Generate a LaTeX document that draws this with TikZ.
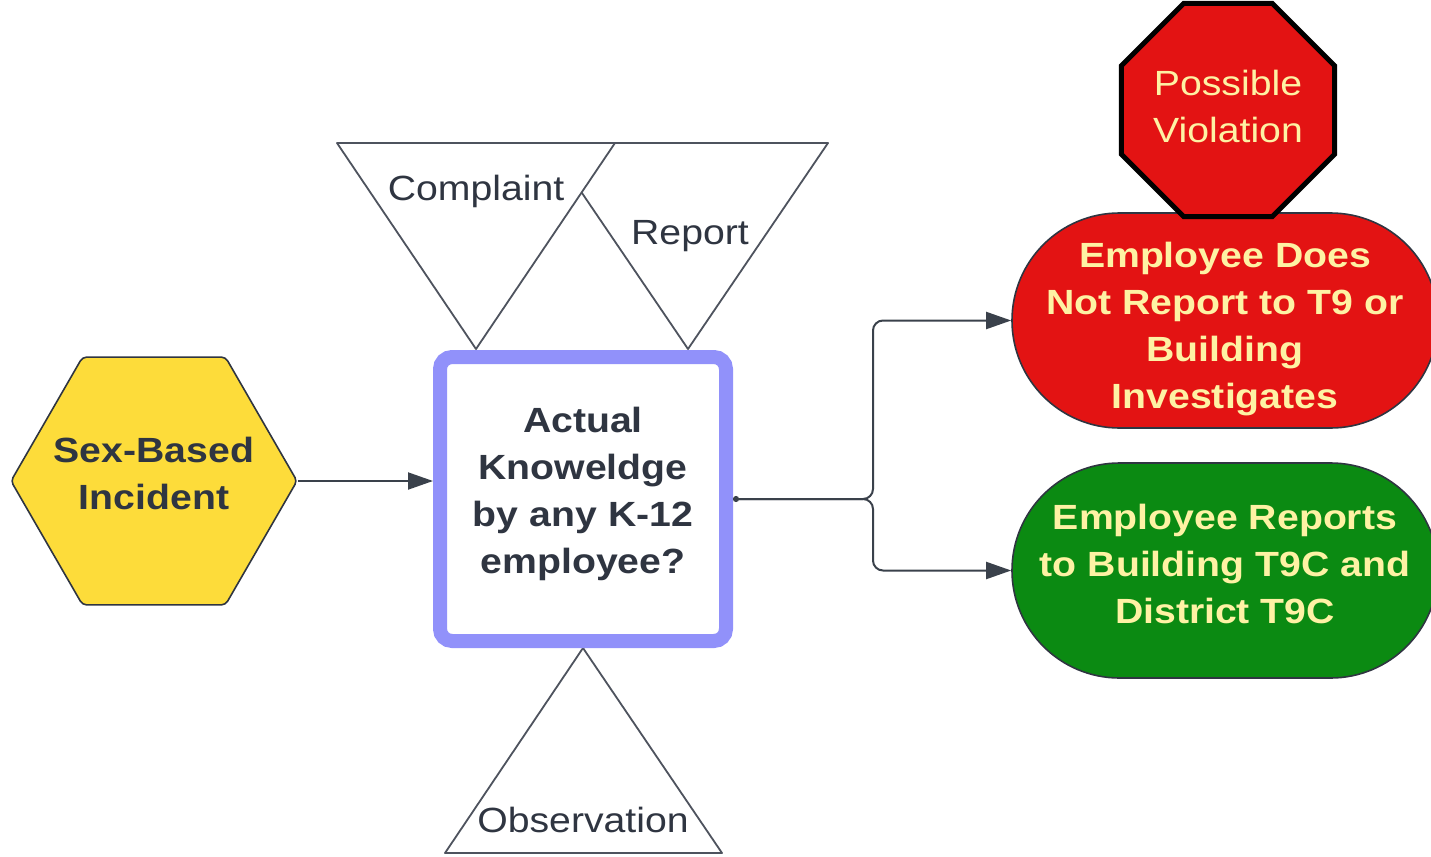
\documentclass[tikz,border=0pt]{standalone}
\usepackage{fontspec}
\setmainfont{Liberation Sans}[FakeStretch=1.12]
\usepackage{tikz}
\usetikzlibrary{shapes,arrows.meta,positioning,calc}
\definecolor{inkgray}{HTML}{2F3541}
\definecolor{hexyellow}{HTML}{FDDC3A}
\definecolor{boxpurple}{HTML}{9191FA}
\definecolor{stopred}{HTML}{E31313}
\definecolor{goodgreen}{HTML}{0B8A12}
\definecolor{cream}{HTML}{FEF2A4}
\definecolor{linegray}{HTML}{3A414B}

\begin{document}
\begin{tikzpicture}[x=0.5pt, y=-0.5pt,
    txt/.style={font=\fontsize{17.5pt}{23.5pt}\selectfont, align=center, text=inkgray, inner sep=0pt},
    boldtxt/.style={txt, font=\fontsize{17.5pt}{23.5pt}\selectfont\bfseries},
    conn/.style={draw=linegray, line width=1pt, rounded corners=5pt, -{Triangle[length=12.5pt,width=8.5pt]}},
    tri/.style={draw=inkgray!85, line width=0.9pt, fill=white, line join=round},
    pill/.style={rounded rectangle, draw=inkgray, line width=0.8pt, minimum width=213pt, minimum height=107.5pt, inner sep=0pt}]
            \useasboundingbox (0,0) rectangle (1431,857);

            % --- Sources of knowledge ---
            \draw[tri] (548,143) -- (828,143) -- (688,349) -- cycle;
            \node[txt, anchor=base] (report) at (690,244) {Report};
            \draw[tri] (337,143) -- (615,143) -- (476,349) -- cycle;
            \node[txt, anchor=base] (complaint) at (476,200) {Complaint};
            \draw[tri] (583,648) -- (722,853) -- (445,853) -- cycle;
            \node[txt, anchor=base] (observation) at (583,832) {Observation};

            % --- Incident and question ---
            \node[regular polygon, regular polygon sides=6, minimum size=143pt, inner sep=0pt, fill=hexyellow,
                  draw=inkgray, line width=0.8pt, rounded corners=2pt,
                  label={[boldtxt, yshift=4pt]center:{Sex-Based\\Incident}}] (incident) at (154,481) {};
            \node[draw=boxpurple, line width=7pt, rounded corners=6pt, fill=white,
                  minimum width=143pt, minimum height=142pt, inner sep=0pt,
                  label={[boldtxt, yshift=2.5pt]center:{Actual\\Knoweldge\\by any K-12\\employee?}}] (actual) at (583,499) {};

            % --- Outcomes ---
            \node[pill, fill=stopred,
                  label={[boldtxt, text=cream, yshift=-4.25pt]center:{Employee Does\\Not Report to T9 or\\Building\\Investigates}}]
                  (noreport) at (1225,320.5) {};
            \node[pill, fill=goodgreen,
                  label={[boldtxt, text=cream, yshift=3.5pt]center:{Employee Reports\\to Building T9C and\\District T9C}}]
                  (reports) at (1225,570.5) {};
            \node[regular polygon, regular polygon sides=8, minimum size=115.5pt, inner sep=0pt, fill=stopred,
                  draw=black, line width=2.5pt,
                  label={[txt, text=cream, yshift=2pt]center:{Possible\\Violation}}] (violation) at (1228,110) {};

            % Connectors
            \coordinate (split) at ($(actual.east)+(140,0)$);
            \draw[conn] (incident.east) -- (incident.east -| actual.west);
            \draw[conn, {Circle[length=3pt]}-{Triangle[length=12.5pt,width=8.5pt]}] (actual.east) -- (split) |- (noreport.west);
            \draw[conn] (actual.east) -- (split) |- (reports.west);
        \end{tikzpicture}
\end{document}
